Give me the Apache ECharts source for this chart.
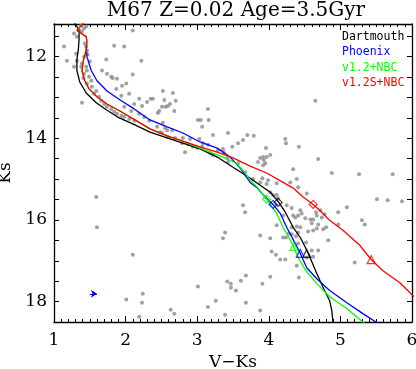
<!DOCTYPE html>
<html><head><meta charset="utf-8">
<script src="https://cdn.jsdelivr.net/npm/echarts@6/dist/echarts.min.js"></script>
<style>html,body{margin:0;padding:0;background:#fff}#c{width:416px;height:369px}</style>
</head><body><div id="c"></div>
<script>
const chartTitle = 'M67 Z=0.02 Age=3.5Gyr';
const modelNames = ['Dartmouth', 'Phoenix', 'v1.2+NBC', 'v1.2S+NBC'];
const modelColors = ['#000000', '#0000ff', '#00ff00', '#ff0000'];
const yLabelValues = [12, 14, 16, 18];
const yTickValues = [11.5, 12, 12.5, 13, 13.5, 14, 14.5, 15, 15.5, 16, 16.5, 17, 17.5, 18, 18.5];

// observed M67 stars [V-Ks, Ks]
const obsStars = [
[2.10,11.36],[1.14,11.75],[1.18,12.10],[1.38,11.24],[1.42,11.31],[1.39,11.38],[1.35,11.36],[1.45,11.26],
[1.28,11.43],[1.32,11.51],[1.84,11.73],[1.98,11.75],[1.73,12.07],[2.22,12.10],[2.10,12.44],[1.67,12.34],
[1.74,12.42],[1.80,12.49],[1.82,12.52],[1.88,12.54],[1.95,12.71],[2.01,12.66],[1.87,12.79],[2.05,12.91],
[1.94,12.96],[2.19,13.03],[2.12,13.16],[2.23,13.21],[2.30,13.11],[2.35,13.03],[1.39,13.13],[1.98,13.23],
[2.08,13.33],[2.19,13.40],[2.26,13.48],[2.33,13.57],
[1.45,11.75],[1.46,11.85],[1.42,12.00],[1.39,12.17],[1.38,12.25],[1.45,12.25],[1.46,12.34],[1.42,12.42],
[1.49,12.49],[1.52,12.59],[1.46,12.66],[1.53,12.74],[1.59,12.84],[1.56,12.91],[1.63,12.98],[1.66,13.08],
[1.70,13.16],[1.74,13.23],[1.80,13.28],[1.84,13.35],[1.88,13.40],[1.94,13.45],[1.98,13.48],[2.05,13.53],
[2.12,13.57],[1.32,12.10],[1.28,12.25],[1.31,11.93],[1.43,11.68],[1.47,11.95],[1.41,12.52],[1.50,12.12],
[2.52,12.84],[2.66,12.89],[2.38,13.03],[2.54,13.06],[2.70,13.08],[2.62,13.16],[2.59,13.21],[2.56,13.23],
[2.51,13.23],[2.47,13.33],[2.45,13.38],[2.68,13.33],[3.15,13.28],[3.01,13.55],[3.05,13.55],[3.16,13.55],
[2.52,13.62],[3.07,13.72],[2.44,13.72],[2.55,13.75],[2.58,13.80],[2.65,13.80],[2.51,13.87],[2.59,13.97],
[2.69,13.99],[2.80,13.99],[2.90,14.02],[2.79,14.12],[3.03,14.02],[3.22,13.92],[3.43,13.87],[3.70,13.92],
[3.64,14.04],[3.57,14.12],[3.15,14.16],[3.08,14.12],[3.07,14.21],[3.49,14.21],[3.29,14.29],[3.36,14.26],
[3.37,14.34],[2.83,14.34],[3.22,14.41],[3.18,14.36],[3.42,14.48],[3.43,14.58],[3.57,14.61],[3.67,14.83],
[3.64,15.64],[3.67,15.81],[2.94,14.21],[2.87,14.14],[2.48,13.85],[3.00,14.24],[4.65,13.08],
[3.79,13.94],[4.23,14.02],[4.24,14.12],[4.42,14.21],[3.96,14.24],[4.02,14.41],[3.97,14.46],[3.92,14.46],
[3.88,14.48],[3.85,14.58],[3.95,14.61],[3.93,14.53],[3.92,14.66],[4.69,14.51],[4.34,14.76],[4.88,14.85],
[3.91,14.98],[3.99,15.03],[4.11,15.10],[3.97,15.12],[3.78,15.00],[3.88,15.08],[4.30,15.08],[4.39,15.00],
[4.41,15.20],[4.53,15.35],[4.02,15.32],[4.06,15.39],[3.95,15.44],[4.11,15.39],[4.13,15.47],[4.25,15.64],
[4.32,15.71],[4.44,15.76],[4.46,15.84],[4.41,15.89],[4.51,15.96],[4.37,15.94],[4.72,15.76],[4.67,15.89],
[4.74,15.94],[4.78,15.86],[4.97,15.81],[5.09,15.69],[4.58,15.99],[4.62,15.99],[4.20,15.89],[4.34,15.89],
[4.66,15.81],[4.60,16.08],[4.69,16.11],[4.67,16.21],[4.62,16.26],[4.55,16.28],[4.80,16.18],[4.76,16.23],
[4.83,16.50],[4.97,16.11],[4.11,16.13],[4.32,16.18],[4.39,16.16],[4.44,16.18],[4.41,16.31],[4.28,16.33],
[4.32,16.35],[4.38,16.40],[4.20,16.43],[4.24,16.43],[3.88,16.38],[4.02,16.45],[4.52,16.55],[4.41,16.58],
[4.69,16.75],[4.60,16.75],[4.04,16.77],[4.10,16.85],[4.16,16.97],[4.23,16.97],[4.62,16.90],[4.53,16.92],
[4.39,17.12],[4.42,17.41],[4.02,17.39],[3.91,17.56],[3.88,18.22],
[5.26,14.88],[5.73,14.88],[5.51,15.49],[5.66,15.52],[5.86,15.54],[5.30,16.01],[5.34,16.11],[5.20,17.04],
[3.36,16.45],[3.39,16.31],[3.42,17.51],[3.47,17.56],[3.47,17.66],[3.61,17.49],[3.68,17.36],[3.54,17.73],
[3.26,17.98],[3.15,18.13],[3.68,18.03],[3.39,18.32],
[1.60,16.18],[2.10,16.85],[3.01,17.63],[2.24,17.81],[2.23,18.03],[2.01,17.95],[2.63,18.20],[2.68,18.30],
[2.19,18.37],[1.59,15.44]
];

// isochrones [V-Ks, Ks]
const dartmouthIso = [
[1.28,11.14],[1.35,11.36],[1.35,11.58],[1.34,11.83],[1.32,12.07],[1.32,12.34],[1.36,12.62],[1.45,12.89],
[1.59,13.13],[1.73,13.30],[1.89,13.48],[2.13,13.67],[2.34,13.85],[2.58,13.99],[2.80,14.12],[3.04,14.26],
[3.28,14.46],[3.50,14.71],[3.74,14.98],[3.88,15.15],[4.02,15.32],[4.14,15.57],[4.23,15.81],[4.34,16.18],
[4.44,16.43],[4.51,16.67],[4.58,16.94],[4.67,17.31],[4.76,17.66],[4.85,17.98],[4.88,18.22],[4.90,18.57]
];
const phoenixIso = [
[1.45,11.75],[1.46,12.00],[1.52,12.34],[1.60,12.59],[1.74,12.84],[1.94,13.08],[2.12,13.28],[2.34,13.55],
[2.58,13.72],[2.80,13.87],[3.04,14.09],[3.28,14.24],[3.46,14.46],[3.60,14.73],[3.74,15.08],[3.84,15.22],
[3.95,15.44],[4.06,15.62],[4.16,15.84],[4.25,16.18],[4.37,16.58],[4.44,16.82],[4.53,17.17],[4.67,17.44],
[4.85,17.73],[5.09,18.03],[5.32,18.30],[5.53,18.54]
];
const v12NbcIso = [
[1.43,11.14],[1.32,11.36],[1.45,11.51],[1.46,11.63],[1.45,11.83],[1.41,12.10],[1.39,12.34],[1.43,12.59],
[1.49,12.79],[1.60,12.98],[1.74,13.16],[1.92,13.33],[2.13,13.55],[2.34,13.77],[2.58,13.94],[2.80,14.07],
[2.97,14.19],[3.18,14.34],[3.39,14.48],[3.56,14.63],[3.67,14.85],[3.74,15.03],[3.84,15.20],[3.97,15.49],
[4.11,15.84],[4.20,16.18],[4.34,16.62],[4.41,16.92],[4.51,17.22],[4.67,17.56],[4.85,17.88],[5.09,18.17],
[5.34,18.54]
];
const v12sNbcIso = [
[1.43,11.14],[1.32,11.36],[1.45,11.51],[1.46,11.63],[1.45,11.83],[1.41,12.10],[1.39,12.34],[1.43,12.59],
[1.49,12.79],[1.60,12.98],[1.74,13.16],[1.92,13.33],[2.13,13.55],[2.34,13.77],[2.58,13.94],[2.80,14.07],
[3.04,14.21],[3.28,14.34],[3.50,14.48],[3.74,14.68],[3.97,14.85],[4.20,15.08],[4.34,15.22],[4.48,15.44],
[4.62,15.62],[4.74,15.81],[4.85,16.01],[5.04,16.26],[5.27,16.62],[5.43,16.97],[5.59,17.24],[5.83,17.54],
[6.03,17.88]
];
// marked points on each isochrone (order as modelNames)
const diamondMarks = [[4.13,15.57],[4.06,15.62],[3.97,15.49],[4.62,15.62]];
const triangleMarks = [[4.53,16.82],[4.44,16.82],[4.35,16.65],[5.43,16.97]];
const arrowMark = [[1.50,17.81],[1.60,17.81]];

const isoList = [dartmouthIso, phoenixIso, v12NbcIso, v12sNbcIso];
const serif = 'DejaVu Serif';

const chart = echarts.init(document.getElementById('c'), null, {renderer: 'canvas'});

function xAx(pos, labels) {
  return {
    type: 'value', position: pos, min: 1, max: 6, interval: 1,
    name: labels ? 'V\u2212Ks' : '', nameLocation: 'middle', nameGap: 31,
    nameTextStyle: {fontFamily: serif, fontSize: 17, color: '#000'},
    axisLine: {show: true, onZero: false, lineStyle: {color: '#000', width: 1.3}},
    axisTick: {show: true, inside: true, length: 6, lineStyle: {color: '#000', width: 1}},
    minorTick: {show: true, splitNumber: 10, length: 3, lineStyle: {color: '#000', width: 1}},
    axisLabel: {show: labels, fontFamily: serif, fontSize: 17, color: '#000', margin: 10},
    splitLine: {show: false}, minorSplitLine: {show: false}
  };
}
function yAx(pos, labels) {
  return {
    type: 'value', position: pos, min: 11.2, max: 18.5, inverse: true,
    name: labels ? 'Ks' : '', nameLocation: 'middle', nameGap: 40, nameRotate: 90,
    nameTextStyle: {fontFamily: serif, fontSize: 17, color: '#000'},
    axisLine: {show: true, onZero: false, lineStyle: {color: '#000', width: 1.3}},
    axisTick: {show: true, inside: true, length: 5, customValues: yTickValues, lineStyle: {color: '#000', width: 1}},
    axisLabel: {show: labels, customValues: yLabelValues, fontFamily: serif, fontSize: 17, color: '#000', margin: 7},
    splitLine: {show: false}
  };
}

const series = [{
  type: 'scatter', xAxisIndex: 0, yAxisIndex: 0, data: obsStars, symbol: 'circle', symbolSize: 4,
  itemStyle: {color: '#8a8a8a'}, z: 1, silent: true,
  markLine: {
    silent: true, symbol: ['none', 'arrow'], symbolSize: 6, label: {show: false},
    lineStyle: {color: '#0000ff', width: 1, type: 'solid'},
    data: [[{coord: arrowMark[0]}, {coord: arrowMark[1]}]]
  }
}];
isoList.forEach((d, i) => {
  series.push({
    type: 'line', name: modelNames[i], data: d, showSymbol: false, symbol: 'none',
    lineStyle: {color: modelColors[i], width: 1.3}, z: 2 + i, silent: true, clip: true
  });
});
modelNames.forEach((n, i) => {
  series.push({
    type: 'scatter', data: [diamondMarks[i]], symbol: 'diamond', symbolSize: 8,
    itemStyle: {color: 'rgba(0,0,0,0)', borderColor: modelColors[i], borderWidth: 1.2}, z: 10, silent: true
  });
  series.push({
    type: 'scatter', data: [triangleMarks[i]], symbol: 'triangle', symbolSize: 8,
    itemStyle: {color: 'rgba(0,0,0,0)', borderColor: modelColors[i], borderWidth: 1.2}, z: 10, silent: true
  });
});

const legendTexts = modelNames.map((n, i) => ({
  type: 'text', left: 342, top: 31 + i * 15.3,
  style: {text: n, fill: modelColors[i], font: '11.5px "DejaVu Sans Mono"'}
}));

chart.setOption({
  animation: false,
  backgroundColor: '#fff',
  grid: {left: 54, top: 24, width: 358, height: 298, containLabel: false, outerBoundsMode: 'none'},
  xAxis: [xAx('bottom', true), xAx('top', false)],
  yAxis: [yAx('left', true), yAx('right', false)],
  graphic: [{
    type: 'text', x: 236, y: 11,
    style: {text: chartTitle, fill: '#000', font: '20px "DejaVu Serif"', align: 'center', verticalAlign: 'middle'}
  }].concat(legendTexts),
  series: series
});
</script></body></html>
